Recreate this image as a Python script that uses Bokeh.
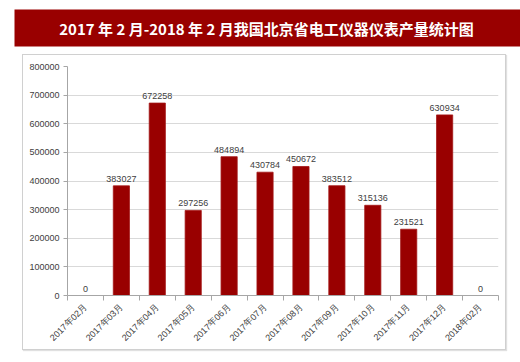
import math
from bokeh.plotting import figure
from bokeh.models import ColumnDataSource, FixedTicker, NumeralTickFormatter, Range1d
from bokeh.core.properties import value
from bokeh.embed import file_html
from bokeh.resources import INLINE

title_text = "2017 年 2 月-2018 年 2 月我国北京省电工仪器仪表产量统计图"
months = ["2017年02月", "2017年03月", "2017年04月", "2017年05月", "2017年06月", "2017年07月",
          "2017年08月", "2017年09月", "2017年10月", "2017年11月", "2017年12月", "2018年02月"]
output = [0, 383027, 672258, 297256, 484894, 430784, 450672, 383512, 315136, 231521, 630934, 0]
y_ticks = [0, 100000, 200000, 300000, 400000, 500000, 600000, 700000, 800000]

DARK_RED = "#990000"
TEXT = "#404040"
FONT = "Liberation Sans"

# --- title banner (pixel-space figure) ---
t = figure(width=520, height=54, x_range=Range1d(0, 520), y_range=Range1d(0, 54),
           x_axis_location=None, y_axis_location=None,
           output_backend="svg", toolbar_location=None, min_border=0)
t.grid.visible = False
t.outline_line_color = None
t.quad(left=[14], right=[520], bottom=[8], top=[45], fill_color=DARK_RED, line_color=None)
t.text(x=[266], y=[26.5], text=[title_text], text_color="white", text_font=value("Noto Sans CJK SC"),
       text_font_style="bold", text_font_size="15px", text_align="center", text_baseline="middle")

# --- chart ---
xs = list(range(len(months)))
src = ColumnDataSource(dict(x=xs, y=output, label=[str(v) for v in output]))

p = figure(width=484, height=296, x_range=Range1d(-0.5, 11.5), y_range=Range1d(0, 800000),
           output_backend="svg", toolbar_location=None,
           min_border_left=44, min_border_right=9, min_border_top=11, min_border_bottom=56,
           margin=(0, 0, 0, 22), styles={"border": "1px solid #d0d0d0",
                                         "box-shadow": "1px 1px 1px #e0e0e0"})
p.outline_line_color = None
p.vbar(x="x", top="y", width=0.45, source=src, fill_color=DARK_RED, line_color="#a31515", line_width=0.8)
p.text(x="x", y="y", text="label", source=src, text_align="center", text_baseline="bottom",
       y_offset=-4, text_font=value(FONT), text_font_size="9px", text_color=TEXT)

p.xaxis.ticker = FixedTicker(ticks=xs, minor_ticks=[i - 0.5 for i in range(len(months) + 1)])
p.xaxis.major_label_overrides = {i: m for i, m in enumerate(months)}
p.xaxis.major_label_orientation = math.pi / 4
p.xaxis.major_tick_line_color = None
p.xaxis.minor_tick_out = 5
p.xaxis.minor_tick_in = 0
p.xaxis.minor_tick_line_color = "#a6a6a6"
p.xaxis.axis_line_color = "#a6a6a6"
p.xaxis.major_label_text_font = FONT
p.xaxis.major_label_text_font_size = "9px"
p.xaxis.major_label_text_color = TEXT
p.xaxis.major_label_standoff = 4

p.yaxis.ticker = FixedTicker(ticks=y_ticks)
p.yaxis.formatter = NumeralTickFormatter(format="0")
p.yaxis.minor_tick_line_color = None
p.yaxis.major_tick_out = 4
p.yaxis.major_tick_in = 0
p.yaxis.major_tick_line_color = "#a6a6a6"
p.yaxis.axis_line_color = "#a6a6a6"
p.yaxis.major_label_text_font = FONT
p.yaxis.major_label_text_font_size = "9px"
p.yaxis.major_label_text_color = TEXT
p.yaxis.major_label_standoff = 4

p.xgrid.visible = False
p.ygrid.grid_line_color = "#d9d9d9"

open("out.html", "w").write(file_html([t, p], INLINE))
